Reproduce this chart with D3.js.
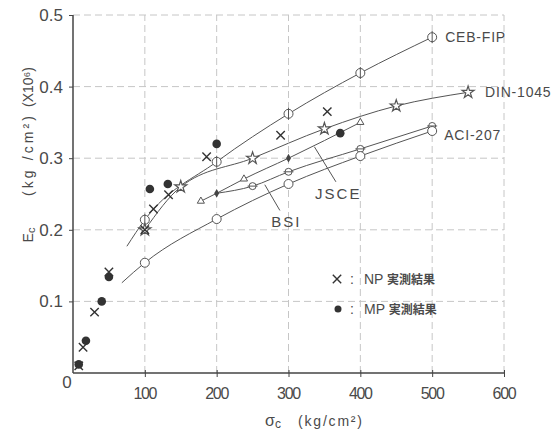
<!DOCTYPE html>
<html>
<head>
<meta charset="utf-8">
<script src="https://cdn.jsdelivr.net/npm/d3@7"></script>
<style>
  body { margin: 0; background: #fff; }
  text { font-family: "Liberation Sans", "DejaVu Sans", sans-serif; fill: #4a4a4a; }
</style>
</head>
<body>
<div id="chart"></div>
<script>
// values, stress (kg/cm2) vs Ec (x10^6 kg/cm2)
var xTicks = [100, 200, 300, 400, 500, 600];
var yTicks = [0.1, 0.2, 0.3, 0.4, 0.5];

var cebX = [75, 100, 200, 300, 400, 500];
var cebY = [0.177, 0.214, 0.295, 0.362, 0.419, 0.469];
var dinX = [100, 150, 250, 350, 450, 550];
var dinY = [0.200, 0.260, 0.300, 0.341, 0.373, 0.392];
var jsceX = [178, 200, 238, 300, 400];
var jsceY = [0.240, 0.251, 0.271, 0.300, 0.350];
var bsiX = [200, 250, 300, 400, 500];
var bsiY = [0.251, 0.261, 0.281, 0.313, 0.345];
var aciX = [68, 100, 200, 300, 400, 500];
var aciY = [0.126, 0.154, 0.215, 0.264, 0.303, 0.338];

var npX = [8, 14, 30, 50, 100, 112, 133, 186, 289, 354];
var npY = [0.010, 0.036, 0.085, 0.141, 0.200, 0.229, 0.249, 0.302, 0.332, 0.365];
var mpX = [8, 18, 40, 50, 107, 132, 200, 372];
var mpY = [0.012, 0.045, 0.100, 0.134, 0.257, 0.264, 0.320, 0.335];

var W = 556, H = 435;
var svg = d3.select("#chart").append("svg").attr("width", W).attr("height", H);

var x = d3.scaleLinear().domain([0, 600]).range([73, 504]);
var y = d3.scaleLinear().domain([0, 0.5]).range([373, 15]);

// grid
svg.append("g").selectAll("line").data(yTicks).enter().append("line")
  .attr("x1", x(0)).attr("x2", x(600))
  .attr("y1", d => y(d)).attr("y2", d => y(d))
  .attr("stroke", "#c6c6c6").attr("stroke-dasharray", "7,4");
svg.append("g").selectAll("line").data(xTicks).enter().append("line")
  .attr("y1", y(0)).attr("y2", y(0.5))
  .attr("x1", d => x(d)).attr("x2", d => x(d))
  .attr("stroke", "#c6c6c6").attr("stroke-dasharray", "7,4");

// axes
var ax = svg.append("g").attr("transform", "translate(0," + y(0) + ")")
  .call(d3.axisBottom(x).tickValues(xTicks).tickSize(4).tickFormat(""));
ax.select(".domain").attr("stroke", "#444").attr("stroke-width", 1.5).attr("d", "M" + x(0) + ",0H" + x(600));
ax.selectAll(".tick line").attr("stroke", "#444").attr("y1", -3);
var ay = svg.append("g").attr("transform", "translate(" + x(0) + ",0)")
  .call(d3.axisLeft(y).tickValues(yTicks).tickSize(4).tickFormat(""));
ay.select(".domain").attr("stroke", "#444").attr("stroke-width", 1.5).attr("d", "M0," + y(0) + "V" + y(0.5));
ay.selectAll(".tick line").attr("stroke", "#444");

svg.append("g").selectAll("text").data(xTicks).enter().append("text")
  .attr("x", d => x(d)).attr("y", 399).attr("text-anchor", "middle")
  .attr("font-size", 16).attr("letter-spacing", "-1.3px").text(d => d);
svg.append("g").selectAll("text").data(yTicks).enter().append("text")
  .attr("x", 63).attr("y", d => y(d) + 6).attr("text-anchor", "end")
  .attr("font-size", 17).text(d => d.toFixed(1));
svg.append("text").attr("x", 67).attr("y", 388).attr("text-anchor", "middle")
  .attr("font-size", 17).text("0");

// axis titles
var yt = svg.append("g").attr("transform", "translate(33,0) rotate(-90)");
var ec = yt.append("text").attr("x", -235).attr("y", 0).attr("text-anchor", "middle").attr("font-size", 14);
ec.append("tspan").text("E");
ec.append("tspan").attr("font-size", 11).attr("dy", 2).text("c");
yt.append("text").attr("x", -156).attr("y", 0).attr("text-anchor", "middle").attr("font-size", 14)
  .attr("textLength", 80).attr("lengthAdjust", "spacing").text("(kg /cm²)");
yt.append("text").attr("x", -87).attr("y", 0).attr("text-anchor", "middle").attr("font-size", 14)
  .attr("textLength", 40).attr("lengthAdjust", "spacing").text("(X10⁶)");

var xt = svg.append("text").attr("x", 265).attr("y", 426).attr("font-size", 16);
xt.append("tspan").text("σ");
xt.append("tspan").attr("font-size", 12).attr("dy", 2).text("c");
svg.append("text").attr("x", 298).attr("y", 426).attr("font-size", 14)
  .attr("textLength", 64).attr("lengthAdjust", "spacing").text("(kg/cm²)");

// curves
var line = d3.line().x(d => x(d[0])).y(d => y(d[1])).curve(d3.curveMonotoneX);
function pts(xs, ys) { return xs.map((v, i) => [v, ys[i]]); }
var series = [
  { name: "CEB-FIP", p: pts(cebX, cebY), m: "cvl", skip: 1 },
  { name: "DIN-1045", p: pts(dinX, dinY), m: "star", skip: 0 },
  { name: "JSCE", p: pts(jsceX, jsceY), m: "tri", skip: 0 },
  { name: "BSI", p: pts(bsiX, bsiY), m: "chl", skip: 0 },
  { name: "ACI-207", p: pts(aciX, aciY), m: "circ", skip: 1 }
];
series.forEach(function (s) {
  svg.append("path").attr("d", line(s.p)).attr("fill", "none")
    .attr("stroke", "#555").attr("stroke-width", 1);
});

var star = d3.symbol().type(d3.symbolStar).size(45);
var tri = d3.symbol().type(d3.symbolTriangle).size(22);
series.forEach(function (s) {
  var g = svg.append("g");
  s.p.slice(s.skip).forEach(function (d, i) {
    var cx = x(d[0]), cy = y(d[1]);
    var mg = g.append("g").attr("transform", "translate(" + cx + "," + cy + ")");
    if (s.m === "cvl") {
      mg.append("circle").attr("r", 4.5).attr("fill", "#fff").attr("stroke", "#555");
      mg.append("line").attr("y1", -6).attr("y2", 6).attr("stroke", "#555");
    } else if (s.m === "star") {
      mg.append("path").attr("d", star()).attr("fill", "#fff").attr("stroke", "#555").attr("stroke-width", 1.2);
    } else if (s.m === "tri") {
      if (d[0] === 200 || d[0] === 300) {
        mg.append("path").attr("d", d3.symbol().type(d3.symbolDiamond).size(22)()).attr("fill", "#444");
      } else {
        mg.append("path").attr("d", tri()).attr("fill", "#fff").attr("stroke", "#555");
      }
    } else if (s.m === "chl") {
      if (d[0] === 200) return;
      mg.append("circle").attr("r", 3.5).attr("fill", "#fff").attr("stroke", "#555");
      mg.append("line").attr("x1", -5).attr("x2", 5).attr("stroke", "#555");
    } else {
      mg.append("circle").attr("r", 4.5).attr("fill", "#fff").attr("stroke", "#555");
    }
  });
});

// series labels at right ends
var endLabels = [
  { name: "CEB-FIP", xs: cebX, ys: cebY, dx: 13, dy: 5 },
  { name: "DIN-1045", xs: dinX, ys: dinY, dx: 17, dy: 5 },
  { name: "ACI-207", xs: aciX, ys: aciY, dx: 12, dy: 9 }
];
endLabels.forEach(function (l) {
  var n = l.xs.length - 1;
  svg.append("text").attr("x", x(l.xs[n]) + l.dx).attr("y", y(l.ys[n]) + l.dy)
    .attr("font-size", 14).attr("letter-spacing", "0.8px").text(l.name);
});

// pointer labels (data units)
var pointers = [
  { name: "JSCE", tx: 337, ty: 0.251, from: [336, 0.316], to: [366, 0.267] },
  { name: "BSI", tx: 276, ty: 0.212, from: [267, 0.263], to: [288, 0.227] }
];
pointers.forEach(function (p) {
  svg.append("line").attr("x1", x(p.from[0])).attr("y1", y(p.from[1]))
    .attr("x2", x(p.to[0])).attr("y2", y(p.to[1])).attr("stroke", "#555");
  svg.append("text").attr("x", x(p.tx)).attr("y", y(p.ty) + 6)
    .attr("font-size", 15).attr("letter-spacing", "2px").text(p.name);
});

// measured points
function xMark(g, cx, cy, r) {
  g.append("path").attr("d", "M" + (cx - r) + "," + (cy - r) + "L" + (cx + r) + "," + (cy + r) +
    "M" + (cx + r) + "," + (cy - r) + "L" + (cx - r) + "," + (cy + r))
    .attr("stroke", "#333").attr("stroke-width", 1.4);
}
var gm = svg.append("g");
mpX.forEach(function (v, i) {
  gm.append("circle").attr("cx", x(v)).attr("cy", y(mpY[i])).attr("r", 4.3).attr("fill", "#333");
});
var gn = svg.append("g");
npX.forEach(function (v, i) { xMark(gn, x(v), y(npY[i]), 4.2); });

// legend
var lg = svg.append("g");
xMark(lg, 337, 279, 4.2);
lg.append("circle").attr("cx", 338).attr("cy", 309).attr("r", 3.5).attr("fill", "#333");
[["NP", 279], ["MP", 309]].forEach(function (r) {
  lg.append("text").attr("x", 350).attr("y", r[1] + 5).attr("font-size", 14).text(":");
  var t = lg.append("text").attr("x", 364).attr("y", r[1] + 5).attr("font-size", 14);
  t.append("tspan").text(r[0] + " ");
  t.append("tspan").attr("font-family", "Noto Sans CJK JP").attr("font-weight", "bold")
    .attr("font-size", 12).text("実測結果");
});
</script>
</body>
</html>
